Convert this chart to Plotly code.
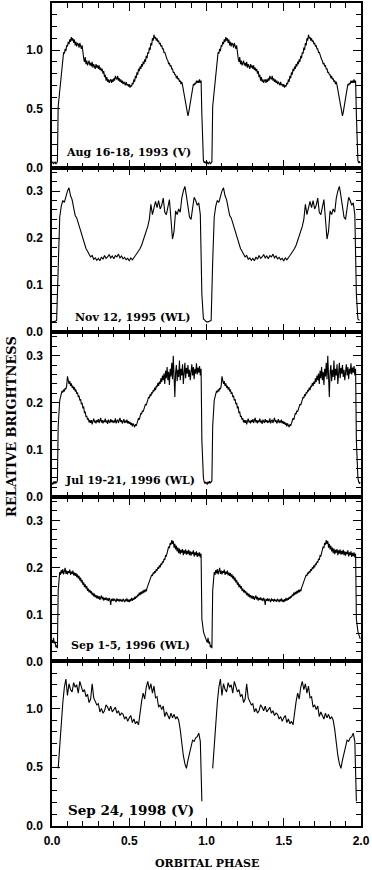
import plotly.graph_objects as go
from plotly.subplots import make_subplots

# phase grids for one orbital cycle; each light curve is drawn twice (0-1 and 1-2)
PHASE_FINE = [i / 200 for i in range(200)]
PHASE = [i / 100 for i in range(100)]

AUG93_V = [
    0.04, 0.05, 0.03, 0.04, 0.05, 0.03, 0.04, 0.05, 0.52, 0.58,
    0.65, 0.72, 0.79, 0.87, 0.94, 0.98, 0.97, 1.01, 0.99, 1.04,
    1.03, 1.07, 1.05, 1.09, 1.07, 1.11, 1.08, 1.10, 1.06, 1.09,
    1.04, 1.07, 1.03, 1.06, 1.05, 1.02, 1.06, 1.03, 1.01, 1.04,
    0.96, 0.93, 0.90, 0.94, 0.88, 0.91, 0.87, 0.90, 0.91, 0.87,
    0.89, 0.86, 0.90, 0.85, 0.88, 0.86, 0.84, 0.88, 0.85, 0.87,
    0.84, 0.87, 0.83, 0.85, 0.82, 0.84, 0.80, 0.82, 0.77, 0.79,
    0.74, 0.77, 0.73, 0.75, 0.72, 0.74, 0.75, 0.72, 0.75, 0.73,
    0.76, 0.74, 0.78, 0.76, 0.75, 0.78, 0.74, 0.76, 0.73, 0.75,
    0.72, 0.74, 0.71, 0.73, 0.72, 0.70, 0.73, 0.70, 0.71, 0.69,
    0.71, 0.68, 0.70, 0.69, 0.72, 0.71, 0.75, 0.73, 0.78, 0.76,
    0.81, 0.79, 0.84, 0.82, 0.86, 0.84, 0.88, 0.86, 0.90, 0.88,
    0.92, 0.90, 0.95, 0.93, 0.98, 0.97, 1.02, 1.00, 1.06, 1.04,
    1.10, 1.08, 1.13, 1.10, 1.11, 1.08, 1.10, 1.07, 1.08, 1.05,
    1.06, 1.03, 1.04, 1.01, 1.01, 0.98, 0.98, 0.95, 0.94, 0.92,
    0.91, 0.88, 0.89, 0.86, 0.87, 0.84, 0.84, 0.81, 0.81, 0.79,
    0.79, 0.76, 0.78, 0.75, 0.76, 0.73, 0.74, 0.71, 0.73, 0.70,
    0.66, 0.62, 0.58, 0.54, 0.50, 0.46, 0.44, 0.47, 0.51, 0.57,
    0.62, 0.66, 0.68, 0.71, 0.70, 0.72, 0.71, 0.74, 0.72, 0.74,
    0.72, 0.75, 0.72, 0.74, 0.45, 0.10, 0.06, 0.04, 0.05, 0.04,
]

NOV95_WL = [
    0.022, 0.022, 0.023, 0.025, 0.150, 0.245, 0.268, 0.280, 0.276, 0.290,
    0.300, 0.307, 0.290, 0.282, 0.268, 0.248, 0.243, 0.232, 0.222, 0.208,
    0.196, 0.188, 0.178, 0.172, 0.167, 0.160, 0.163, 0.155, 0.158, 0.153,
    0.157, 0.152, 0.160, 0.155, 0.163, 0.157, 0.160, 0.165, 0.158, 0.162,
    0.156, 0.163, 0.160, 0.166, 0.158, 0.162, 0.156, 0.159, 0.154, 0.157,
    0.152, 0.158, 0.154, 0.160, 0.163, 0.168, 0.172, 0.178, 0.185, 0.195,
    0.200, 0.212, 0.225, 0.240, 0.272, 0.250, 0.262, 0.278, 0.265, 0.280,
    0.262, 0.270, 0.285, 0.255, 0.250, 0.268, 0.282, 0.240, 0.198, 0.215,
    0.258, 0.250, 0.262, 0.255, 0.285, 0.300, 0.310, 0.290, 0.270, 0.245,
    0.240, 0.262, 0.287, 0.280, 0.270, 0.275, 0.250, 0.080, 0.028, 0.025,
]

JUL96_WL = [
    0.030, 0.026, 0.032, 0.028, 0.033, 0.029, 0.031, 0.034, 0.150, 0.190,
    0.205, 0.212, 0.220, 0.225, 0.222, 0.228, 0.224, 0.231, 0.229, 0.236,
    0.256, 0.244, 0.240, 0.246, 0.236, 0.241, 0.232, 0.236, 0.228, 0.233,
    0.224, 0.228, 0.219, 0.222, 0.212, 0.215, 0.205, 0.208, 0.197, 0.200,
    0.188, 0.192, 0.178, 0.181, 0.170, 0.172, 0.164, 0.167, 0.158, 0.163,
    0.157, 0.163, 0.154, 0.161, 0.166, 0.158, 0.162, 0.156, 0.163, 0.159,
    0.165, 0.157, 0.161, 0.168, 0.158, 0.163, 0.156, 0.162, 0.159, 0.166,
    0.158, 0.162, 0.155, 0.164, 0.160, 0.157, 0.165, 0.159, 0.163, 0.157,
    0.162, 0.158, 0.167, 0.156, 0.161, 0.164, 0.157, 0.162, 0.168, 0.159,
    0.163, 0.156, 0.160, 0.165, 0.157, 0.162, 0.158, 0.164, 0.156, 0.161,
    0.155, 0.159, 0.153, 0.157, 0.150, 0.156, 0.152, 0.148, 0.154, 0.151,
    0.156, 0.162, 0.167, 0.164, 0.172, 0.178, 0.176, 0.183, 0.181, 0.188,
    0.190, 0.197, 0.195, 0.204, 0.206, 0.212, 0.210, 0.218, 0.214, 0.222,
    0.220, 0.227, 0.224, 0.232, 0.227, 0.236, 0.233, 0.242, 0.236, 0.245,
    0.240, 0.252, 0.244, 0.258, 0.248, 0.262, 0.240, 0.268, 0.252, 0.276,
    0.248, 0.266, 0.238, 0.272, 0.256, 0.285, 0.250, 0.300, 0.232, 0.212,
    0.265, 0.280, 0.246, 0.270, 0.255, 0.290, 0.248, 0.272, 0.258, 0.282,
    0.240, 0.268, 0.285, 0.252, 0.274, 0.262, 0.280, 0.255, 0.270, 0.248,
    0.265, 0.282, 0.258, 0.276, 0.250, 0.272, 0.262, 0.284, 0.260, 0.275,
    0.264, 0.278, 0.258, 0.272, 0.120, 0.060, 0.040, 0.032, 0.028, 0.031,
]

SEP96_WL = [
    0.045, 0.040, 0.050, 0.038, 0.042, 0.030, 0.034, 0.028, 0.150, 0.182,
    0.190, 0.184, 0.194, 0.187, 0.196, 0.185, 0.192, 0.199, 0.186, 0.193,
    0.185, 0.192, 0.188, 0.195, 0.184, 0.191, 0.186, 0.193, 0.183, 0.189,
    0.182, 0.188, 0.179, 0.185, 0.176, 0.182, 0.172, 0.178, 0.168, 0.173,
    0.163, 0.168, 0.158, 0.164, 0.155, 0.160, 0.150, 0.155, 0.147, 0.152,
    0.145, 0.149, 0.141, 0.146, 0.138, 0.144, 0.136, 0.141, 0.134, 0.140,
    0.133, 0.139, 0.131, 0.136, 0.140, 0.132, 0.137, 0.129, 0.135, 0.131,
    0.136, 0.130, 0.134, 0.128, 0.135, 0.131, 0.120, 0.133, 0.129, 0.134,
    0.128, 0.133, 0.130, 0.126, 0.134, 0.129, 0.132, 0.127, 0.133, 0.128,
    0.131, 0.127, 0.133, 0.128, 0.126, 0.132, 0.128, 0.134, 0.127, 0.131,
    0.126, 0.132, 0.128, 0.135, 0.129, 0.134, 0.131, 0.137, 0.133, 0.139,
    0.136, 0.142, 0.139, 0.146, 0.141, 0.148, 0.143, 0.150, 0.145, 0.152,
    0.147, 0.153, 0.149, 0.156, 0.160, 0.166, 0.170, 0.176, 0.178, 0.184,
    0.182, 0.189, 0.186, 0.192, 0.189, 0.196, 0.193, 0.200, 0.197, 0.204,
    0.200, 0.208, 0.205, 0.212, 0.210, 0.218, 0.216, 0.225, 0.224, 0.233,
    0.234, 0.244, 0.241, 0.252, 0.248, 0.258, 0.250, 0.256, 0.242, 0.250,
    0.238, 0.246, 0.234, 0.242, 0.230, 0.240, 0.228, 0.237, 0.231, 0.239,
    0.226, 0.236, 0.229, 0.238, 0.227, 0.235, 0.228, 0.237, 0.226, 0.234,
    0.225, 0.233, 0.228, 0.236, 0.223, 0.232, 0.226, 0.234, 0.222, 0.231,
    0.224, 0.232, 0.221, 0.229, 0.090, 0.070, 0.064, 0.058, 0.052, 0.048,
]

# no data during eclipse in 1998
SEP98_V = [
    None, None, None, None, 0.49, 0.70, 0.92, 1.05, 1.18, 1.25,
    1.11, 1.21, 1.16, 1.14, 1.22, 1.18, 1.20, 1.13, 1.23, 1.17,
    1.14, 1.16, 1.10, 1.12, 1.05, 1.08, 1.21, 1.09, 1.06, 1.03,
    1.04, 0.97, 1.00, 0.96, 0.98, 1.03, 1.01, 0.98, 1.02, 0.97,
    0.99, 1.01, 0.96, 0.98, 0.94, 0.96, 0.95, 0.91, 0.93, 0.89,
    0.92, 0.94, 0.88, 0.91, 0.87, 0.89, 0.86, 0.98, 1.06, 1.13,
    1.08, 1.18, 1.23, 1.16, 1.21, 1.13, 1.19, 1.09, 1.10, 1.01,
    1.03, 0.99, 1.02, 0.93, 0.97, 0.94, 0.91, 0.96, 0.92, 0.95,
    0.91, 0.93, 0.90, 0.82, 0.70, 0.60, 0.53, 0.49, 0.56, 0.62,
    0.68, 0.73, 0.72, 0.75, 0.76, 0.79, 0.72, 0.21, None, None,
]

CURVES = [
    (PHASE_FINE, AUG93_V),
    (PHASE, NOV95_WL),
    (PHASE_FINE, JUL96_WL),
    (PHASE_FINE, SEP96_WL),
    (PHASE, SEP98_V),
]
LABELS = ["Aug 16-18, 1993 (V)", "Nov 12, 1995 (WL)", "Jul 19-21, 1996 (WL)",
          "Sep 1-5, 1996 (WL)", "Sep 24, 1998 (V)"]

# (ymax, major, minor, label x, label y, label size)
PANEL_STYLE = [
    (1.4, 0.5, 0.1, 0.075, 0.13, 11),
    (0.35, 0.1, 0.02, 0.135, 0.032, 11),
    (0.35, 0.1, 0.02, 0.073, 0.034, 11),
    (0.35, 0.1, 0.02, 0.110, 0.034, 11),
    (1.4, 0.5, 0.1, 0.088, 0.135, 13.5),
]

TICKFONT = dict(family="Liberation Sans", size=12, color="black", weight="bold")
SERIF = "DejaVu Serif"

fig = make_subplots(rows=5, cols=1, shared_xaxes=True, vertical_spacing=0)

for i, ((phase, vals), label, st) in enumerate(zip(CURVES, LABELS, PANEL_STYLE)):
    row = i + 1
    ymax, major, minor, lx, ly, lsize = st
    fig.add_trace(go.Scatter(
        x=phase + [p + 1 for p in phase], y=vals + vals, mode="lines",
        line=dict(color="black", width=1.1),
        connectgaps=False, showlegend=False, hoverinfo="skip",
    ), row=row, col=1)
    fig.update_yaxes(
        range=[0, ymax], tick0=0, dtick=major, tickformat=".1f",
        ticks="inside", ticklen=8, tickwidth=1.2, tickcolor="black",
        minor=dict(dtick=minor, tick0=0, ticks="inside", ticklen=5,
                   tickwidth=1, tickcolor="black"),
        showline=True, linecolor="black", linewidth=1.5, mirror="allticks",
        showgrid=False, zeroline=False, tickfont=TICKFONT,
        ticklabelstandoff=5,
        row=row, col=1)
    fig.update_xaxes(
        range=[0, 2], tick0=0, dtick=0.5, tickformat=".1f",
        ticks="inside", ticklen=8, tickwidth=1.2, tickcolor="black",
        minor=dict(dtick=0.1, tick0=0, ticks="inside", ticklen=5,
                   tickwidth=1, tickcolor="black"),
        showline=True, linecolor="black", linewidth=1.5, mirror="allticks",
        showgrid=False, zeroline=False, tickfont=TICKFONT,
        ticklabelstandoff=3, ticklabeloverflow="allow",
        row=row, col=1)
    fig.add_annotation(
        x=lx, y=ly, text=label, showarrow=False, xanchor="left", yanchor="middle",
        font=dict(family=SERIF, size=lsize, color="black", weight="bold"),
        row=row, col=1)

fig.add_annotation(
    x=-0.133, y=0.486, xref="paper", yref="paper", text="RELATIVE BRIGHTNESS",
    textangle=-90, showarrow=False, xanchor="center", yanchor="middle",
    font=dict(family=SERIF, size=13, color="black", weight="bold"))
fig.add_annotation(
    x=0.5, y=-0.046, xref="paper", yref="paper", text="ORBITAL PHASE",
    showarrow=False, xanchor="center", yanchor="middle",
    font=dict(family=SERIF, size=11, color="black", weight="bold"))

fig.update_layout(
    width=372, height=870,
    margin=dict(l=52, r=11, t=1, b=44),
    plot_bgcolor="white", paper_bgcolor="white",
    showlegend=False,
)

# the page's default body margin would push the figure 8px right and down
fig.write_html("out.html", config={"displayModeBar": False},
               post_script="document.body.style.margin = '0';")
